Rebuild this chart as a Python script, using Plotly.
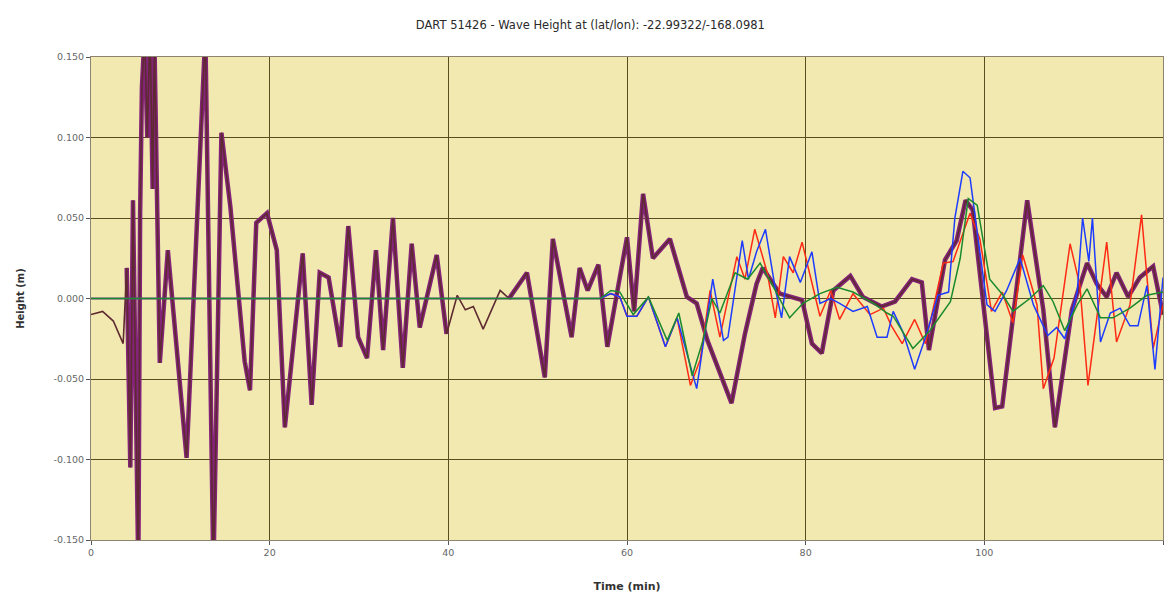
import plotly.graph_objects as go

# Observed wave height at DART 51426 (time in minutes, height in metres)
obs_time = [0, 1.3, 2.5, 3.6, 4.0, 4.4, 4.7, 5.3, 5.5, 5.7, 6.0, 6.3, 6.6, 6.9, 7.1,
            7.7, 8.6, 10.7, 12.8, 13.7, 14.6, 15.6, 17.2, 17.8, 18.5, 19.7, 20.8,
            21.7, 23.7, 24.7, 25.6, 26.6, 27.9, 28.8, 29.9, 30.9, 31.9, 32.7, 33.8,
            34.9, 35.9, 36.8, 38.7, 39.8, 41.0, 41.9, 42.8, 43.9, 45.8, 46.8, 48.8,
            50.8, 51.7, 53.8, 54.7, 55.6, 56.8, 57.8, 60.0, 60.8, 61.8, 62.9, 63.7,
            64.8, 66.7, 67.8, 69.0, 71.7, 73.2, 74.5, 75.2, 77.1, 79.6, 80.7, 81.8,
            83.1, 85.0, 86.4, 88.5, 90.0, 91.9, 93.0, 93.8, 95.6, 96.9, 97.9, 98.7,
            101.2, 102.0, 104.8, 106.6, 107.9, 109.8, 111.5, 112.6, 113.7, 114.8,
            116.1, 117.4, 118.9, 120.0]
obs_height = [-0.010, -0.008, -0.014, -0.028, 0.019, -0.105, 0.061, -0.170, 0.053,
              0.131, 0.165, 0.100, 0.170, 0.068, 0.160, -0.040, 0.030, -0.099, 0.165,
              -0.170, 0.103, 0.057, -0.039, -0.057, 0.047, 0.053, 0.030, -0.080,
              0.028, -0.066, 0.016, 0.013, -0.030, 0.045, -0.024, -0.037, 0.030,
              -0.032, 0.050, -0.043, 0.034, -0.018, 0.027, -0.022, 0.002, -0.007,
              -0.005, -0.019, 0.005, 0.000, 0.016, -0.049, 0.037, -0.024, 0.019,
              0.005, 0.021, -0.030, 0.038, -0.008, 0.065, 0.025, 0.030, 0.037, 0.001,
              -0.003, -0.026, -0.065, -0.022, 0.009, 0.019, 0.003, -0.001, -0.028,
              -0.034, 0.005, 0.014, 0.001, -0.005, -0.002, 0.012, 0.010, -0.032,
              0.024, 0.036, 0.061, 0.055, -0.068, -0.067, 0.061, -0.007, -0.080,
              -0.007, 0.022, 0.009, 0.001, 0.016, 0.001, 0.013, 0.020, -0.010]

# Model run A (red)
red_time = [0, 57.0, 58.2, 59.2, 60.0, 61.1, 62.4, 64.3, 65.6, 67.1, 68.2, 69.3, 70.4,
            72.3, 73.2, 74.3, 75.7, 76.6, 77.5, 78.6, 79.6, 81.6, 82.8, 83.8, 85.3,
            87.2, 88.7, 89.6, 90.8, 92.2, 93.4, 95.4, 96.5, 98.4, 99.5, 100.8, 102.0,
            103.2, 104.3, 105.9, 106.6, 107.8, 109.6, 110.7, 111.6, 113.7, 114.8,
            116.3, 117.6, 118.9, 120.0]
red_height = [0.000, 0.000, 0.003, 0.001, -0.011, -0.011, 0.001, -0.030, -0.012,
              -0.054, -0.038, 0.005, -0.024, 0.026, 0.012, 0.043, 0.016, -0.012,
              0.026, 0.016, 0.035, -0.011, 0.005, -0.013, 0.003, -0.010, -0.006,
              -0.017, -0.028, -0.013, -0.028, 0.022, 0.023, 0.053, 0.037, -0.008,
              0.004, -0.015, 0.027, -0.004, -0.056, -0.037, 0.034, 0.008, -0.054,
              0.035, -0.027, -0.004, 0.052, -0.031, -0.004]

# Model run B (blue)
blue_time = [0, 57.0, 58.2, 59.2, 60.0, 61.1, 62.4, 64.3, 65.6, 67.8, 69.6, 70.8,
             71.3, 72.9, 73.6, 74.5, 75.5, 76.6, 77.3, 78.2, 79.4, 80.7, 81.6, 82.8,
             83.8, 85.3, 86.9, 88.0, 89.1, 89.8, 90.9, 92.2, 93.6, 94.8, 96.0, 96.7,
             97.6, 98.4, 99.5, 100.3, 101.2, 102.5, 104.0, 105.5, 107.1, 108.1,
             109.0, 110.4, 111.0, 111.7, 112.1, 113.0, 114.1, 115.2, 116.3, 117.2,
             118.2, 119.1, 120.0]
blue_height = [0.000, 0.000, 0.003, 0.001, -0.011, -0.011, 0.001, -0.030, -0.012,
               -0.056, 0.012, -0.026, -0.024, 0.036, 0.012, 0.029, 0.043, 0.006,
               -0.012, 0.026, 0.010, 0.029, -0.003, 0.000, -0.003, -0.008, -0.005,
               -0.024, -0.024, -0.008, -0.021, -0.044, -0.021, 0.002, 0.004, 0.050,
               0.079, 0.075, 0.029, -0.004, -0.008, 0.005, 0.025, -0.004, -0.023,
               -0.018, -0.025, 0.004, 0.050, 0.023, 0.050, -0.027, -0.009, -0.006,
               -0.017, -0.017, 0.008, -0.044, 0.013]

# Model run C (green)
green_time = [0, 57.0, 58.2, 59.2, 60.7, 62.4, 64.5, 65.8, 67.3, 68.5, 69.5, 70.4,
              72.1, 73.5, 74.9, 76.4, 78.2, 79.7, 81.6, 83.5, 85.3, 87.6, 89.1, 89.8,
              92.0, 93.9, 96.2, 97.3, 98.2, 99.2, 100.6, 102.1, 103.2, 105.1, 106.6,
              107.7, 109.0, 110.4, 111.5, 113.0, 114.4, 116.3, 118.2, 120.0]
green_height = [0.000, 0.000, 0.005, 0.004, -0.010, 0.001, -0.026, -0.009, -0.048,
                -0.026, 0.000, -0.009, 0.016, 0.012, 0.022, 0.007, -0.012, -0.003,
                0.003, 0.007, 0.004, -0.003, -0.009, -0.011, -0.031, -0.020, -0.002,
                0.025, 0.062, 0.058, 0.012, 0.002, -0.008, 0.000, 0.008, -0.002,
                -0.020, -0.004, 0.006, -0.012, -0.012, -0.006, 0.002, 0.004]

x_ticks = [0, 20, 40, 60, 80, 100, 120]
y_ticks = [-0.150, -0.100, -0.050, 0.000, 0.050, 0.100, 0.150]
y_tick_text = ["-0.150", "-0.100", "-0.050", "0.000", "0.050", "0.100", "0.150"]

# The heavy purple trace is shown only where the record is active
purple_height = [h if (t >= 4.0 and not (40.5 < t < 46.5)) else None
                 for t, h in zip(obs_time, obs_height)]

fig = go.Figure()
fig.add_trace(go.Scatter(x=obs_time, y=purple_height, mode="lines",
                         line=dict(color="#84237A", width=4.5),
                         connectgaps=False, hoverinfo="skip"))
fig.add_trace(go.Scatter(x=obs_time, y=obs_height, mode="lines",
                         line=dict(color="#5E2A30", width=1.6)))
fig.add_trace(go.Scatter(x=red_time, y=red_height, mode="lines",
                         line=dict(color="#FF2A14", width=1.5)))
fig.add_trace(go.Scatter(x=blue_time, y=blue_height, mode="lines",
                         line=dict(color="#1E3CFF", width=1.5)))
fig.add_trace(go.Scatter(x=green_time, y=green_height, mode="lines",
                         line=dict(color="#1B8A2E", width=1.5)))

axis_font = dict(family="DejaVu Sans", size=9.5, color="#666666")
fig.update_layout(
    width=1169, height=595,
    margin=dict(l=91, r=6, t=57, b=55),
    paper_bgcolor="white",
    plot_bgcolor="#F2E9B0",
    showlegend=False,
    title=dict(text="DART 51426 - Wave Height at (lat/lon): -22.99322/-168.0981",
               x=0.505, xanchor="center", y=0.958, yanchor="middle",
               font=dict(family="DejaVu Sans", size=11.5, color="#2A2A2A")),
    xaxis=dict(range=[0, 120], tickvals=x_ticks, tickfont=axis_font,
               showgrid=True, gridcolor="#564E20", gridwidth=1.3,
               zeroline=False, showline=True, linecolor="#8C8470", linewidth=1,
               mirror=True, ticks="outside", ticklen=4, tickcolor="#555555",
               title=dict(text="<b>Time (min)</b>", standoff=24,
                          font=dict(family="DejaVu Sans", size=11, color="#333333"))),
    yaxis=dict(range=[-0.150, 0.150], tickvals=y_ticks, ticktext=y_tick_text,
               tickfont=axis_font,
               showgrid=True, gridcolor="#564E20", gridwidth=1.3,
               zeroline=False, showline=True, linecolor="#8C8470", linewidth=1,
               mirror=True, ticks="outside", ticklen=4, tickcolor="#555555",
               title=dict(text="<b>Height (m)</b>", standoff=26,
                          font=dict(family="DejaVu Sans", size=10, color="#333333"))),
)

fig.write_html("out.html")
